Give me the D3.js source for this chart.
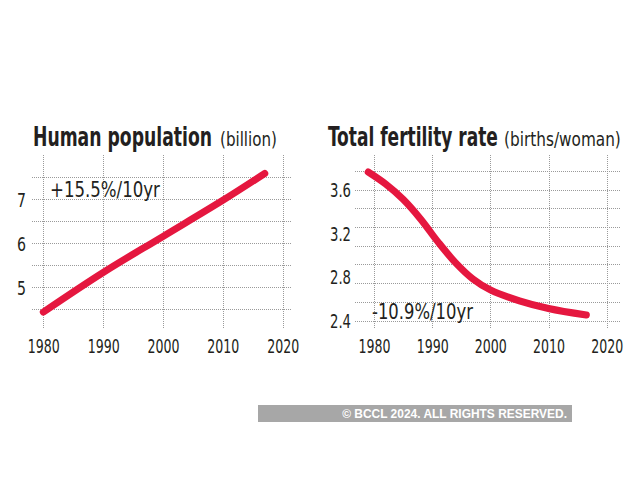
<!DOCTYPE html>
<html><head><meta charset="utf-8">
<script src="https://cdn.jsdelivr.net/npm/d3@7"></script>
<style>
html,body{margin:0;padding:0;background:#fff;}
svg{display:block;}
</style></head>
<body>
<script>
// ---- data ----
const popYears = [1980, 1990, 2000, 2010, 2017];
const popValues = [4.43, 5.33, 6.15, 6.97, 7.58];
const popYTicks = [5, 6, 7];
const popGrid = [4.5, 5, 5.5, 6, 6.5, 7, 7.5];

const tfrYears = [1979, 1982, 1985, 1988, 1991, 1994, 1997, 2000, 2005, 2010, 2016.5];
const tfrValues = [3.76, 3.65, 3.51, 3.33, 3.12, 2.93, 2.78, 2.68, 2.58, 2.51, 2.45];
const tfrYTicks = [2.4, 2.8, 3.2, 3.6];
const tfrGridCount = 9;

const xTicks = [1980, 1990, 2000, 2010, 2020];

const titles = [
  {bold: "Human population", unit: "(billion)"},
  {bold: "Total fertility rate", unit: "(births/woman)"}
];
const notes = ["+15.5%/10yr", "-10.9%/10yr"];
const copyright = "\u00A9 BCCL 2024. ALL RIGHTS RESERVED.";

// ---- drawing ----
const W = 640, H = 480;
const RED = "#e5173f";
const GRID = "#9a9a9a";
const INK = "#231f20";
const NARROW = "'Liberation Sans Narrow','Arial Narrow','DejaVu Sans Condensed',sans-serif";

const svg = d3.select("body").append("svg").attr("width", W).attr("height", H);
svg.append("rect").attr("width", W).attr("height", H).attr("fill", "#fff");

// place a text at (x,y), horizontally squeezed to width w
function fitText(parent, str, x, y, w, attrs, anchor) {
  const g = parent.append("g");
  const t = g.append("text").text(str).attr("x", 0).attr("y", 0)
    .attr("text-anchor", anchor || "start");
  for (const k in attrs) t.attr(k, attrs[k]);
  const nat = t.node().getComputedTextLength();
  const s = w / nat;
  g.attr("transform", `translate(${x},${y}) scale(${s},1)`);
  return t;
}
function squeeze(sel, w) {
  sel.each(function () {
    const nat = this.getComputedTextLength();
    const s = w / nat;
    this.setAttribute("transform", `scale(${s},1)`);
  });
}

function panel(cfg) {
  const g = svg.append("g");
  const x = d3.scaleLinear().domain([1980, 2020]).range(cfg.xRange);
  const y = d3.scaleLinear().domain(cfg.yDomain).range(cfg.yRange);

  g.selectAll(".vg").data(xTicks).join("line")
    .attr("x1", d => Math.round(x(d)) + 0.5).attr("x2", d => Math.round(x(d)) + 0.5)
    .attr("y1", cfg.gridTop).attr("y2", cfg.gridBottom)
    .attr("stroke", GRID).attr("stroke-width", 1).attr("stroke-dasharray", "1,1");
  g.selectAll(".hg").data(cfg.grid).join("line")
    .attr("x1", cfg.gridLeft).attr("x2", cfg.gridRight)
    .attr("y1", d => Math.round(y(d)) + 0.5).attr("y2", d => Math.round(y(d)) + 0.5)
    .attr("stroke", GRID).attr("stroke-width", 1).attr("stroke-dasharray", "1,1");

  const xAxis = d3.axisBottom(x).tickValues(xTicks).tickFormat(d3.format("d")).tickSize(0).tickPadding(0);
  const xa = g.append("g").attr("transform", `translate(0,${cfg.xLabelY})`).call(xAxis);
  xa.select(".domain").remove();
  const xt = xa.selectAll("text").attr("font-family", NARROW).attr("font-size", 20).attr("fill", INK)
    .attr("dy", 0).attr("y", 0);
  squeeze(xt, 32);

  const yAxis = d3.axisLeft(y).tickValues(cfg.yTicks).tickFormat(cfg.yFormat).tickSize(0).tickPadding(0);
  const ya = g.append("g").attr("transform", `translate(${cfg.yLabelX},0)`).call(yAxis);
  ya.select(".domain").remove();
  const yt = ya.selectAll("text").attr("font-family", NARROW).attr("font-size", 20).attr("fill", INK)
    .attr("x", 0).attr("dy", "0.35em");
  squeeze(yt, cfg.yLabelW);

  const line = d3.line().x(d => x(d[0])).y(d => y(d[1])).curve(d3.curveCatmullRom.alpha(0.5));
  g.append("path").datum(d3.zip(cfg.years, cfg.values))
    .attr("d", line).attr("fill", "none").attr("stroke", RED)
    .attr("stroke-width", 7).attr("stroke-linecap", "round").attr("stroke-linejoin", "round");

  fitText(g, cfg.note, cfg.noteX, cfg.noteY, cfg.noteW,
    {"font-family": NARROW, "font-size": 21, "fill": INK});

  fitText(g, cfg.title.bold, cfg.titleX, 146, cfg.titleW,
    {"font-family": NARROW, "font-weight": "bold", "font-size": 26, "fill": INK});
  fitText(g, cfg.title.unit, cfg.unitX, 146, cfg.unitW,
    {"font-family": NARROW, "font-size": 19, "fill": INK});
}

panel({
  xRange: [43.3, 282.7], yDomain: [5, 7], yRange: [287, 199],
  gridTop: 155, gridBottom: 328, gridLeft: 32, gridRight: 292,
  grid: popGrid, yTicks: popYTicks, yFormat: d3.format("d"), yLabelW: 9,
  xLabelY: 353, yLabelX: 26,
  years: popYears, values: popValues,
  note: notes[0], noteX: 50, noteY: 197, noteW: 110,
  title: titles[0], titleX: 33, titleW: 179, unitX: 220, unitW: 57
});

const tfrStep = (3.6 - 2.4) / 7;
panel({
  xRange: [374, 606.7], yDomain: [2.4, 3.6], yRange: [320.5, 189.5],
  gridTop: 155, gridBottom: 328, gridLeft: 355, gridRight: 620,
  grid: d3.range(tfrGridCount).map(i => 2.4 + i * tfrStep),
  yTicks: tfrYTicks, yFormat: d3.format(".1f"), yLabelW: 21,
  xLabelY: 353, yLabelX: 351,
  years: tfrYears, values: tfrValues,
  note: notes[1], noteX: 372, noteY: 319, noteW: 101,
  title: titles[1], titleX: 328, titleW: 170, unitX: 504, unitW: 117
});

svg.append("rect").attr("x", 258).attr("y", 405).attr("width", 314).attr("height", 17).attr("fill", "#a7a7a7");
fitText(svg, copyright, 567, 418, 225,
  {"font-family": "'Liberation Sans',Arial,sans-serif", "font-weight": "bold", "font-size": 12, "fill": "#fff"}, "end");
</script>
</body></html>
